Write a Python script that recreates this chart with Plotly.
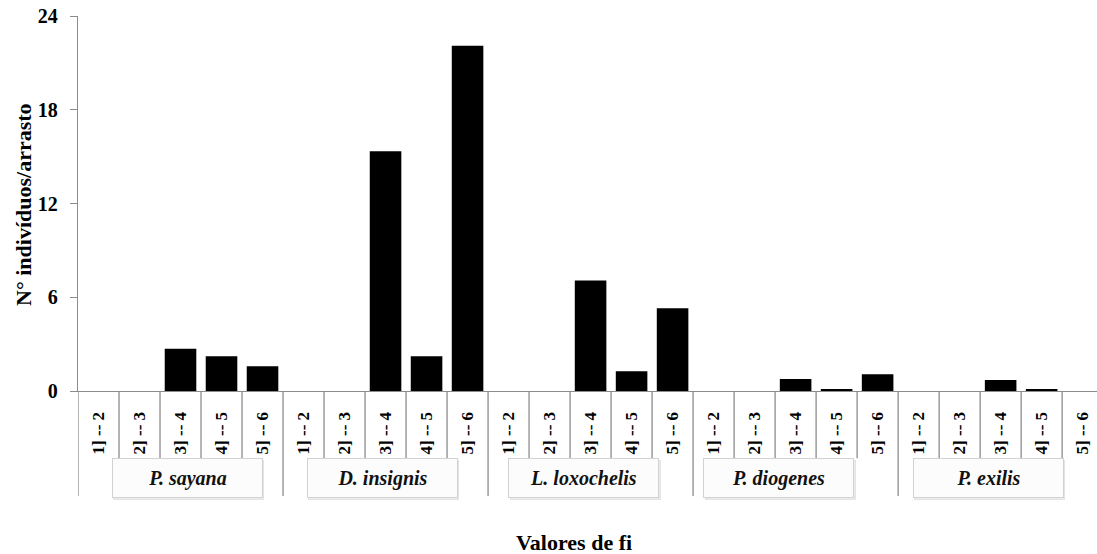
import plotly.graph_objects as go

species = ["P. sayana", "D. insignis", "L. loxochelis", "P. diogenes", "P. exilis"]
classes = ["1] -- 2", "2] -- 3", "3] -- 4", "4] -- 5", "5] -- 6"]
p_sayana = [0, 0, 2.7, 2.23, 1.59]
d_insignis = [0, 0, 15.35, 2.23, 22.1]
l_loxochelis = [0, 0, 7.08, 1.27, 5.3]
p_diogenes = [0, 0, 0.77, 0.08, 1.08]
p_exilis = [0, 0, 0.71, 0.12, 0]
y_ticks = [0, 6, 12, 18, 24]

series = [p_sayana, d_insignis, l_loxochelis, p_diogenes, p_exilis]
box_offsets = [2.17, 1.92, 1.83, 1.59, 1.7]  # label box centre within each group (layout)

values = [v for s in series for v in s]
labels = ["<b>" + c + "</b>" for _ in species for c in classes]
xs = list(range(len(values)))

FONT = "Liberation Serif"
GRAY = "#8c8c8c"

fig = go.Figure()
fig.add_trace(go.Bar(x=xs, y=values, marker=dict(color="black", line=dict(width=0)),
                     width=0.77, showlegend=False))

shapes = []
n = len(values)
for i in range(n + 1):
    b = i - 0.5
    is_group = (i % len(classes) == 0)
    shapes.append(dict(type="line", xref="x", yref="paper", x0=b, x1=b,
                       y0=0, y1=-0.28 if is_group else -0.179,
                       line=dict(color=GRAY, width=1.3)))

annotations = []
for g, name in enumerate(species):
    cx = g * len(classes) + box_offsets[g]
    # soft shadow box
    annotations.append(dict(x=cx, xref="x", xshift=1.5, y=-0.232, yref="paper", yshift=-1.5, text=" ",
                            showarrow=False, width=147, height=36,
                            bordercolor="#e4e4e4", borderwidth=1, bgcolor="#ececec",
                            xanchor="center", yanchor="middle"))
    annotations.append(dict(x=cx, xref="x", y=-0.232, yref="paper", text="<b><i>" + name + "</i></b>",
                            showarrow=False, width=147, height=36,
                            bordercolor="#d2d2d2", borderwidth=1, bgcolor="#fcfcfc",
                            font=dict(family=FONT, size=20, color="#111"),
                            xanchor="center", yanchor="middle"))
annotations.append(dict(x=0.487, xref="paper", y=-0.405, yref="paper", text="<b>Valores de fi</b>",
                        showarrow=False, font=dict(family=FONT, size=22, color="black"),
                        xanchor="center", yanchor="middle"))
annotations.append(dict(x=0, xref="paper", xshift=-55, y=0.496, yref="paper",
                        text="<b>N° indivíduos/arrasto</b>", textangle=-90, showarrow=False,
                        font=dict(family=FONT, size=22, color="black"),
                        xanchor="center", yanchor="middle"))

fig.update_layout(
    width=1097, height=554,
    margin=dict(l=78, r=0, t=16, b=163),
    plot_bgcolor="white", paper_bgcolor="white",
    bargap=0.23,
    font=dict(family=FONT),
    shapes=shapes, annotations=annotations,
    xaxis=dict(range=[-0.5, 24.35], tickvals=xs, ticktext=labels, tickangle=-90,
               showgrid=False, zeroline=False, showline=True, linecolor=GRAY, linewidth=1.3,
               ticks="", ticklabelstandoff=13,
               tickfont=dict(family=FONT, size=17, color="black")),
    yaxis=dict(range=[0, 24], tickvals=y_ticks, ticktext=["<b>%d</b>" % t for t in y_ticks],
               showgrid=False, zeroline=False,
               showline=True, linecolor=GRAY, linewidth=1.3, ticks="outside", ticklen=7,
               tickcolor=GRAY, ticklabelstandoff=8,
               tickfont=dict(family=FONT, size=20, color="black")),
)

fig.write_html("out.html")
